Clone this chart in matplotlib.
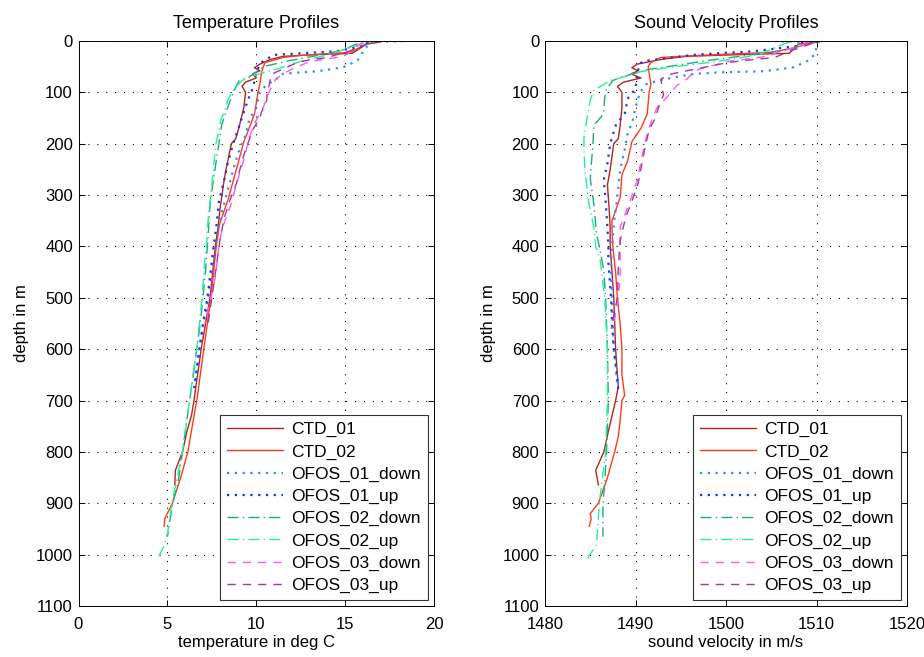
import matplotlib
matplotlib.use("Agg")
import matplotlib.pyplot as plt

plt.rcParams['font.family'] = ['Liberation Sans', 'DejaVu Sans']

names = ['CTD_01', 'CTD_02', 'OFOS_01_down', 'OFOS_01_up',
         'OFOS_02_down', 'OFOS_02_up', 'OFOS_03_down', 'OFOS_03_up']

# profiles: depth (m), temperature (deg C), sound velocity (m/s)
depth_ctd01 = [2, 6, 15, 24, 27, 30, 36, 45, 52, 58, 64, 72, 80, 88, 100, 130, 165, 190, 200, 250, 280, 305, 330, 363,
               400, 450, 500, 550, 600, 650, 673, 700, 730, 760, 800, 836, 864]
temp_ctd01 = [17.0, 16.2, 15.8, 15.4, 13.0, 11.5, 10.8, 10.2, 9.9, 10.2, 9.8, 10.0, 9.4, 9.2, 9.4, 9.3, 9.05, 8.85, 8.6,
              8.3, 8.15, 8.05, 7.95, 7.85, 7.7, 7.55, 7.4, 7.15, 6.9, 6.7, 6.6, 6.5, 6.35, 6.1, 5.85, 5.45, 5.42]
vel_ctd01 = [1510.3, 1508.0, 1507.5, 1507.0, 1500.5, 1495.5, 1492.8, 1490.2, 1489.6, 1490.3, 1489.5, 1490.6, 1488.7,
             1488.0, 1488.5, 1488.5, 1488.3, 1488.1, 1487.6, 1487.2, 1486.9, 1487.0, 1487.1, 1487.2, 1487.2, 1487.4,
             1487.6, 1487.7, 1487.8, 1488.0, 1488.1, 1487.8, 1487.4, 1487.0, 1486.5, 1485.6, 1485.9]

depth_ctd02 = [0, 5, 13, 22, 28, 32, 42, 50, 61, 84, 100, 142, 170, 196, 235, 260, 285, 305, 330, 350, 363, 400, 450,
               500, 550, 600, 650, 690, 700, 740, 770, 800, 850, 900, 920, 930, 945]
temp_ctd02 = [16.3, 16.2, 15.8, 15.3, 12.5, 11.5, 10.5, 10.4, 10.3, 10.2, 10.1, 9.9, 9.6, 9.3, 9.0, 8.8, 8.6, 8.45,
              8.2, 8.0, 7.9, 7.75, 7.6, 7.45, 7.25, 7.05, 6.85, 6.7, 6.65, 6.45, 6.3, 6.15, 5.75, 5.28, 5.0, 4.85, 4.82]
vel_ctd02 = [1509.5, 1509.1, 1507.6, 1505.0, 1497.0, 1492.8, 1491.7, 1491.4, 1491.5, 1491.7, 1491.5, 1491.3, 1490.6,
             1489.6, 1489.1, 1488.5, 1488.4, 1488.3, 1487.8, 1487.4, 1487.4, 1487.5, 1487.8, 1488.0, 1488.3, 1488.5,
             1488.5, 1488.8, 1488.5, 1488.3, 1488.1, 1487.7, 1486.9, 1485.9, 1485.0, 1485.1, 1484.9]

depth_o1d = [0, 3, 12, 26, 38, 51, 56, 59, 61, 64, 70, 77, 84, 100, 129, 154, 183, 212, 251, 303, 342, 400, 450, 500,
             550, 600, 650, 675]
temp_o1d = [18.3, 16.3, 16.2, 15.9, 15.7, 14.9, 14.0, 13.4, 12.5, 11.5, 11.2, 11.1, 10.6, 10.2, 10.0, 9.6, 9.4, 9.05,
            8.7, 8.3, 8.0, 7.7, 7.5, 7.3, 7.05, 6.8, 6.6, 6.5]
vel_o1d = [1505.3, 1509.8, 1510.0, 1509.8, 1509.1, 1507.5, 1505.5, 1503.9, 1499.4, 1496.5, 1494.5, 1492.5, 1491.2,
           1490.5, 1490.0, 1489.7, 1489.1, 1488.8, 1488.3, 1488.0, 1487.7, 1487.4, 1487.3, 1487.4, 1487.5, 1487.6,
           1487.9, 1488.1]

depth_o1u = [1, 10, 20, 24, 27, 39, 44, 63, 93, 113, 138, 165, 200, 238, 270, 312, 363, 400, 430, 500, 550, 600, 640,
             680]
temp_o1u = [16.3, 16.0, 14.5, 12.5, 11.0, 10.4, 10.2, 10.0, 9.8, 9.55, 9.3, 9.05, 8.7, 8.4, 8.2, 7.9, 7.75, 7.6, 7.5,
            7.25, 7.0, 6.8, 6.65, 6.5]
vel_o1u = [1508.5, 1507.8, 1503.0, 1499.0, 1496.4, 1490.9, 1490.5, 1490.2, 1490.0, 1489.1, 1488.9, 1487.8, 1487.2,
           1486.9, 1486.5, 1486.7, 1486.9, 1487.0, 1487.0, 1487.3, 1487.4, 1487.6, 1487.9, 1488.1]

depth_o2d = [5, 16, 24, 38, 49, 55, 70, 77, 93, 110, 138, 148, 164, 200, 222, 267, 318, 376, 400, 447, 500, 550, 600,
             700, 800, 860, 900, 965]
temp_o2d = [15.7, 15.0, 14.1, 11.9, 10.5, 10.2, 9.6, 9.05, 8.8, 8.6, 8.3, 8.2, 8.05, 7.9, 7.8, 7.6, 7.4, 7.3, 7.25,
            7.15, 7.0, 6.85, 6.65, 6.25, 5.85, 5.6, 5.3, 5.0]
vel_o2d = [1508.0, 1507.6, 1504.0, 1498.0, 1493.9, 1491.5, 1488.5, 1487.5, 1486.8, 1486.6, 1486.5, 1486.2, 1485.4,
           1485.3, 1485.2, 1485.0, 1485.4, 1485.7, 1486.0, 1486.5, 1486.7, 1486.8, 1486.9, 1487.0, 1486.8, 1486.6,
           1486.4, 1486.4]

depth_o2u = [2, 5, 27, 40, 51, 60, 68, 77, 96, 115, 138, 154, 190, 206, 248, 264, 312, 363, 400, 427, 500, 600, 700,
             800, 900, 950, 980, 1010]
temp_o2u = [16.0, 16.0, 14.0, 12.5, 11.5, 10.6, 9.8, 9.2, 8.7, 8.4, 8.2, 8.0, 7.8, 7.7, 7.6, 7.55, 7.4, 7.25, 7.2,
            7.1, 6.95, 6.65, 6.25, 5.85, 5.25, 5.05, 4.85, 4.43]
vel_o2u = [1507.0, 1506.5, 1503.5, 1499.0, 1493.9, 1490.5, 1489.1, 1487.2, 1485.4, 1485.0, 1484.8, 1484.6, 1484.3,
           1484.3, 1484.4, 1484.5, 1484.8, 1485.4, 1485.6, 1486.1, 1486.6, 1486.9, 1486.9, 1486.7, 1486.0, 1485.8,
           1485.7, 1484.6]

depth_o3d = [1, 10, 17, 30, 40, 55, 64, 74, 86, 109, 129, 154, 187, 226, 271, 316, 363, 400, 460, 500, 550]
temp_o3d = [16.0, 15.7, 15.5, 14.9, 13.0, 12.0, 11.5, 11.1, 10.9, 10.6, 10.4, 10.0, 9.6, 9.35, 8.95, 8.6, 8.1, 7.9,
            7.7, 7.45, 7.1]
vel_o3d = [1509.0, 1508.3, 1506.5, 1504.5, 1500.2, 1497.0, 1496.2, 1495.7, 1494.6, 1493.5, 1492.4, 1491.8, 1491.2,
           1490.7, 1490.2, 1489.3, 1488.3, 1488.3, 1488.3, 1488.1, 1487.6]

depth_o3u = [5, 20, 32, 38, 42, 64, 74, 106, 115, 138, 150, 173, 212, 222, 267, 276, 312, 344, 389, 440, 500, 560]
temp_o3u = [16.3, 15.2, 14.0, 12.8, 12.3, 10.9, 10.8, 10.6, 10.6, 10.3, 10.2, 9.8, 9.4, 9.3, 8.95, 8.9, 8.5, 8.2,
            7.95, 7.75, 7.5, 7.25]
vel_o3u = [1509.5, 1507.0, 1505.4, 1502.0, 1500.2, 1494.0, 1492.8, 1493.1, 1492.8, 1492.4, 1492.2, 1491.5, 1491.0,
           1490.9, 1490.4, 1490.3, 1489.6, 1488.9, 1488.3, 1488.1, 1488.0, 1487.3]

depths = [depth_ctd01, depth_ctd02, depth_o1d, depth_o1u, depth_o2d, depth_o2u, depth_o3d, depth_o3u]
temps = [temp_ctd01, temp_ctd02, temp_o1d, temp_o1u, temp_o2d, temp_o2u, temp_o3d, temp_o3u]
vels = [vel_ctd01, vel_ctd02, vel_o1d, vel_o1u, vel_o2d, vel_o2u, vel_o3d, vel_o3u]

colors = ['#b3261e', '#ff3a1c', '#2e8fff', '#1433ff', '#1ea88a', '#24f58a', '#ff55ff', '#a23aa2']
styles = ['-', '-', (0, (1, 2.5)), (0, (1, 2.5)), (0, (8, 3, 1, 3)), (0, (8, 3, 1, 3)), (0, (6, 5)), (0, (6, 5))]
widths = [1.0, 1.0, 1.6, 1.6, 1.0, 1.0, 1.0, 1.0]

fig = plt.figure(figsize=(9.24, 6.57), dpi=100)
ax1 = fig.add_axes([78.5 / 924, 1 - 606 / 657, 355.5 / 924, 565 / 657])
ax2 = fig.add_axes([545 / 924, 1 - 606 / 657, 362 / 924, 565 / 657])

def setup(ax, xlim, xticks, xlabel, title):
    ax.set_xlim(xlim)
    ax.set_ylim(1100, 0)
    ax.set_xticks(xticks)
    ax.set_yticks(range(0, 1101, 100))
    ax.grid(True, color='k', linestyle=(0, (1, 7)), linewidth=0.8)
    ax.tick_params(direction='in', top=True, right=True, labelsize=12, length=4, width=0.7)
    ax.tick_params(axis='x', pad=8)
    ax.tick_params(axis='y', pad=4)
    for sp in ax.spines.values():
        sp.set_linewidth(0.7)
    ax.set_xlabel(xlabel, fontsize=12, labelpad=2)
    ax.set_ylabel('depth in m', fontsize=12, labelpad=5)
    ax.set_title(title, fontsize=13, pad=9)

for d, t, c, s, w, n in zip(depths, temps, colors, styles, widths, names):
    ax1.plot(t, d, color=c, linestyle=s, linewidth=w, label=n)
for d, v, c, s, w, n in zip(depths, vels, colors, styles, widths, names):
    ax2.plot(v, d, color=c, linestyle=s, linewidth=w, label=n)

setup(ax1, (0, 20), [0, 5, 10, 15, 20], 'temperature in deg C', 'Temperature Profiles')
setup(ax2, (1480, 1520), [1480, 1490, 1500, 1510, 1520], 'sound velocity in m/s', 'Sound Velocity Profiles')

for ax in (ax1, ax2):
    leg = ax.legend(loc='lower right', fontsize=12.5, handlelength=3.2, fancybox=False, framealpha=1,
                    edgecolor='#333333', borderaxespad=0.35, labelspacing=0.4, handletextpad=0.5)
    leg.get_frame().set_linewidth(0.8)

plt.savefig('out.png', dpi=100)
